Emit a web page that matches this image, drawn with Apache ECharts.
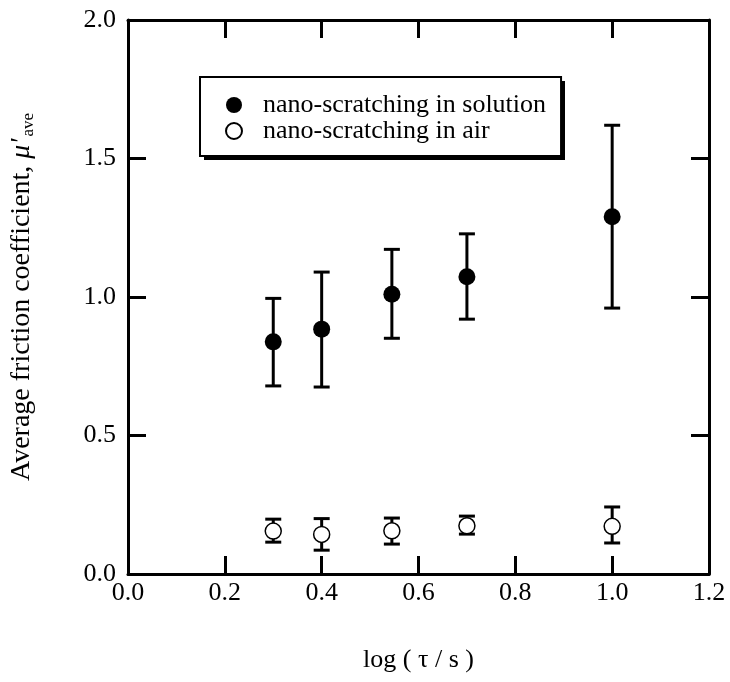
<!doctype html>
<html lang="en">
<head>
    <meta charset="utf-8">
    <title>Average friction coefficient vs log(tau)</title>
    <style>
        html, body { margin: 0; padding: 0; background: #fff; }
        #chart { width: 730px; height: 682px; }
    </style>
</head>
<body>
    <div id="chart"></div>
    <script src="https://cdn.jsdelivr.net/npm/echarts@6/dist/echarts.min.js"></script>
    <script>
        // values
        const xVals = [0.3, 0.4, 0.545, 0.7, 1.0];
        const solMean = [0.838, 0.884, 1.01, 1.073, 1.29];
        const solHigh = [0.995, 1.09, 1.172, 1.228, 1.62];
        const solLow = [0.679, 0.675, 0.851, 0.92, 0.96];
        const airMean = [0.155, 0.143, 0.156, 0.174, 0.172];
        const airHigh = [0.198, 0.2, 0.202, 0.209, 0.242];
        const airLow = [0.115, 0.086, 0.108, 0.144, 0.112];

        const font = '"Liberation Serif", "Times New Roman", serif';
        const fs = 26;
        const chart = echarts.init(document.getElementById('chart'));

        function errorBars(low, high) {
            return xVals.map((x, i) => [x, low[i], high[i]]);
        }

        function renderBar(params, api) {
            const top = api.coord([api.value(0), api.value(2)]);
            const bot = api.coord([api.value(0), api.value(1)]);
            const half = 8;
            const style = { stroke: '#000', lineWidth: 3 };
            return {
                type: 'group',
                children: [
                    { type: 'line', shape: { x1: top[0], y1: top[1], x2: bot[0], y2: bot[1] }, style: style },
                    { type: 'line', shape: { x1: top[0] - half, y1: top[1], x2: top[0] + half, y2: top[1] }, style: style },
                    { type: 'line', shape: { x1: bot[0] - half, y1: bot[1], x2: bot[0] + half, y2: bot[1] }, style: style }
                ]
            };
        }

        const axisCommon = {
            type: 'value',
            axisLine: { show: true, onZero: false, lineStyle: { color: '#000', width: 3 } },
            axisTick: { show: true, inside: true, length: 18, lineStyle: { color: '#000', width: 3 } },
            splitLine: { show: false },
            axisLabel: { color: '#000', fontFamily: font, fontSize: fs }
        };

        chart.setOption({
            animation: false,
            backgroundColor: '#fff',
            grid: { left: 127, right: 21, top: 20, bottom: 108 },
            // legend drop shadow
            graphic: [{
                type: 'rect',
                shape: { x: 204, y: 81, width: 361, height: 79 },
                style: { fill: '#000' },
                z: 1
            }],
            legend: {
                left: 200,
                top: 77,
                orient: 'vertical',
                padding: [15, 15, 12, 25],
                itemGap: 0,
                itemWidth: 16,
                itemHeight: 16,
                backgroundColor: '#fff',
                borderColor: '#000',
                borderWidth: 2,
                borderRadius: 0,
                z: 4,
                textStyle: { color: '#000', fontFamily: font, fontSize: fs, padding: [0, 0, 0, 16] },
                data: ['nano-scratching in solution', 'nano-scratching in air']
            },
            xAxis: [
                Object.assign({}, axisCommon, {
                    min: 0, max: 1.2, interval: 0.2,
                    axisLabel: Object.assign({}, axisCommon.axisLabel, {
                        margin: 6,
                        formatter: v => v.toFixed(1)
                    }),
                    name: 'log ( τ / s )',
                    nameLocation: 'middle',
                    nameGap: 73,
                    nameTextStyle: { color: '#000', fontFamily: font, fontSize: fs }
                }),
                Object.assign({}, axisCommon, {
                    position: 'top', min: 0, max: 1.2, interval: 0.2,
                    axisLabel: { show: false }
                })
            ],
            yAxis: [
                Object.assign({}, axisCommon, {
                    min: 0, max: 2, interval: 0.5,
                    axisLabel: Object.assign({}, axisCommon.axisLabel, {
                        margin: 12,
                        formatter: v => v.toFixed(1)
                    }),
                    name: '{t|Average friction coefficient, }{m|μ\'}{s|ave}',
                    nameLocation: 'middle',
                    nameGap: 91,
                    nameTextStyle: {
                        color: '#000', fontFamily: font, fontSize: 28,
                        rich: {
                            t: { fontFamily: font, fontSize: 28, color: '#000' },
                            m: { fontFamily: font, fontSize: 28, fontStyle: 'italic', color: '#000' },
                            s: { fontFamily: font, fontSize: 17, color: '#000', verticalAlign: 'bottom', padding: [13, 0, 0, 2] }
                        }
                    }
                }),
                Object.assign({}, axisCommon, {
                    position: 'right', min: 0, max: 2, interval: 0.5,
                    axisLabel: { show: false }
                })
            ],
            series: [
                {
                    type: 'custom',
                    renderItem: renderBar,
                    data: errorBars(solLow, solHigh),
                    z: 2,
                    silent: true
                },
                {
                    type: 'custom',
                    renderItem: renderBar,
                    data: errorBars(airLow, airHigh),
                    z: 2,
                    silent: true
                },
                {
                    name: 'nano-scratching in solution',
                    type: 'scatter',
                    symbol: 'circle',
                    symbolSize: 17,
                    itemStyle: { color: '#000', opacity: 1 },
                    data: xVals.map((x, i) => [x, solMean[i]]),
                    z: 5
                },
                {
                    name: 'nano-scratching in air',
                    type: 'scatter',
                    symbol: 'circle',
                    symbolSize: 16,
                    itemStyle: { color: '#fff', borderColor: '#000', borderWidth: 1.5, opacity: 1 },
                    data: xVals.map((x, i) => [x, airMean[i]]),
                    z: 5
                }
            ]
        });
    </script>
</body>
</html>
